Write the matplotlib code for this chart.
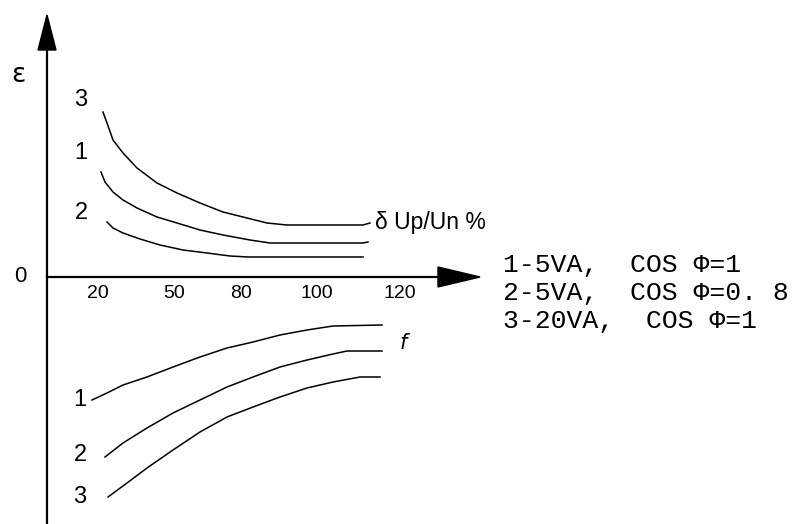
import matplotlib.pyplot as plt
from matplotlib.patches import Polygon

# schematic units: x = pixels right of the vertical axis, y = pixels above the horizontal axis
tick_pos = [51, 127, 194, 270, 353]
tick_labels = ['20', '50', '80', '100', '120']

# upper curves (delta Up/Un %)
up3_x = [56, 60, 66, 76, 90, 110, 130, 153, 176, 200, 220, 240, 316, 323]
up3_y = [165, 154, 137, 124, 109, 94, 84, 74, 65, 59, 54, 52, 52, 54]
up1_x = [54, 58, 66, 76, 90, 110, 130, 153, 176, 203, 223, 316, 321]
up1_y = [105, 95, 85, 77, 69, 60, 54, 47, 42, 37, 34, 34, 35]
up2_x = [60, 66, 76, 93, 113, 136, 160, 183, 201, 316]
up2_y = [55, 49, 44, 38, 32, 27, 24, 21, 20, 20]

# lower curves (f)
lo1_x = [45, 60, 76, 100, 126, 153, 180, 206, 233, 260, 286, 335]
lo1_y = [-123, -116, -108, -100, -90, -80, -71, -65, -58, -53, -49, -48]
lo2_x = [58, 76, 100, 126, 153, 180, 206, 233, 260, 286, 300, 335]
lo2_y = [-180, -166, -151, -136, -123, -110, -100, -90, -83, -77, -74, -74]
lo3_x = [61, 80, 100, 126, 153, 180, 206, 233, 260, 286, 313, 333]
lo3_y = [-220, -206, -191, -173, -155, -140, -130, -120, -111, -105, -100, -100]

legend_lines = ['1-5VA,  COS \u03a6=1', '2-5VA,  COS \u03a6=0. 8', '3-20VA,  COS \u03a6=1']

fig = plt.figure(figsize=(8.02, 5.24), dpi=100)
ax = fig.add_axes([0, 0, 1, 1])
ax.set_xlim(-47, 755)
ax.set_ylim(-247, 277)
ax.axis('off')

# axes with arrow heads
ax.plot([0, 0], [-247, 235], color='black', lw=1.6)
ax.plot([0, 400], [0, 0], color='black', lw=1.6)
ax.add_patch(Polygon([[-9, 227], [9, 227], [0, 262]], closed=True, color='black'))
ax.add_patch(Polygon([[391, 10], [391, -10], [433, 0]], closed=True, color='black'))

for xs, ys in [(up3_x, up3_y), (up1_x, up1_y), (up2_x, up2_y),
               (lo1_x, lo1_y), (lo2_x, lo2_y), (lo3_x, lo3_y)]:
    ax.plot(xs, ys, color='black', lw=1.1, solid_joinstyle='round')

for p, t in zip(tick_pos, tick_labels):
    ax.text(p, -16, t, ha='center', va='center', fontsize=14, family='Liberation Sans')

ax.text(-29, 202, '\u03b5', ha='center', va='center', fontsize=19)
ax.text(-27, 0, '0', ha='center', va='center', fontsize=16, family='Liberation Sans')

for lbl, yy in [('3', 177), ('1', 124), ('2', 64)]:
    ax.text(34, yy, lbl, ha='center', va='center', fontsize=17, family='Liberation Sans')
for lbl, yy in [('1', -123), ('2', -178), ('3', -220)]:
    ax.text(33, yy, lbl, ha='center', va='center', fontsize=17, family='Liberation Sans')

ax.text(328, 55, '\u03b4 Up/Un %', ha='left', va='center', fontsize=16.5, family='Liberation Sans')
ax.text(356, -66, 'f', ha='center', va='center', fontsize=15, style='italic', family='DejaVu Sans')

for i, s in enumerate(legend_lines):
    ax.text(456, 12 - i * 28, s, ha='left', va='center', fontsize=19, family='Liberation Mono')

fig.savefig('out.png', dpi=100)
